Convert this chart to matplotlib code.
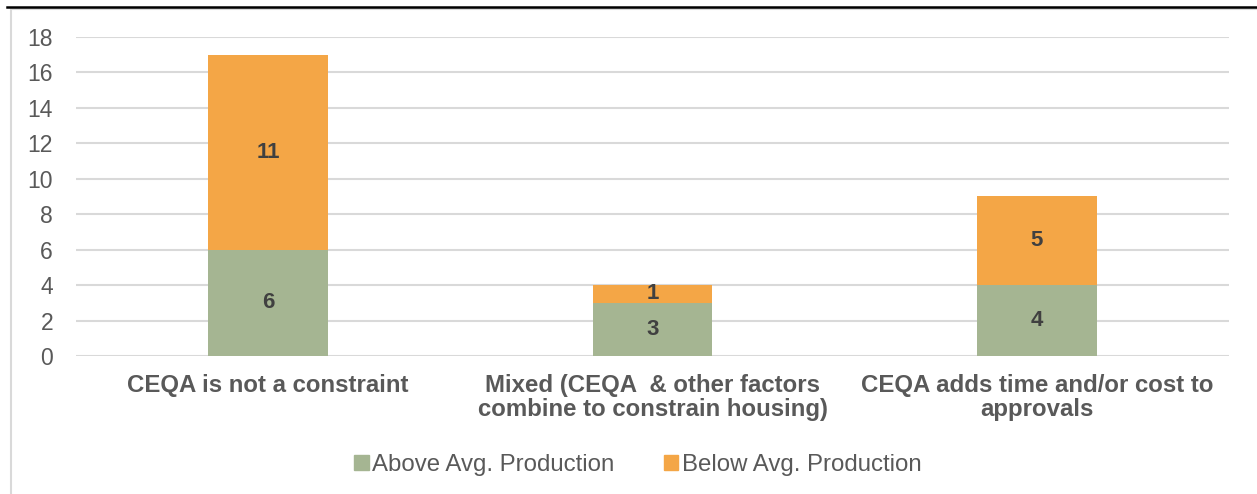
import matplotlib
matplotlib.use("Agg")
import matplotlib.pyplot as plt
from matplotlib.patches import Rectangle
from matplotlib.lines import Line2D

categories = [
    "CEQA is not a constraint",
    "Mixed (CEQA  & other factors\ncombine to constrain housing)",
    "CEQA adds time and/or cost to\napprovals",
]
above_avg = [6, 3, 4]
below_avg = [11, 1, 5]
series_names = ["Above Avg. Production", "Below Avg. Production"]
y_ticks = [0, 2, 4, 6, 8, 10, 12, 14, 16, 18]

GREEN = "#A5B592"
ORANGE = "#F4A646"
LABEL = "#404040"
TICK = "#595959"
GRID = "#D9D9D9"

plt.rcParams["font.family"] = ["Liberation Sans", "DejaVu Sans"]

W, H = 1257, 494
fig = plt.figure(figsize=(W / 100, H / 100), dpi=100)

# outer chart frame and rule above it
fig.add_artist(Rectangle((11 / W, 0 - 0.05), 1.2, 1 - 9 / H + 0.05,
                         transform=fig.transFigure, fill=False,
                         edgecolor=GRID, linewidth=1.5))
fig.add_artist(Line2D([7 / W, 1], [1 - 7 / H, 1 - 7 / H],
                      transform=fig.transFigure, color="black", linewidth=1.8))

ax = fig.add_axes([76 / W, 1 - 356 / H, (1229 - 76) / W, (356 - 37) / H])
x = list(range(len(categories)))
width = 0.312
bars1 = ax.bar(x, above_avg, width, color=GREEN, label=series_names[0], zorder=3)
bars2 = ax.bar(x, below_avg, width, bottom=above_avg, color=ORANGE,
               label=series_names[1], zorder=3)

for bars, vals, bottoms in ((bars1, above_avg, [0] * 3), (bars2, below_avg, above_avg)):
    for b, v, b0 in zip(bars, vals, bottoms):
        ax.text(b.get_x() + b.get_width() / 2, b0 + v / 2, str(v),
                ha="center", va="center", fontsize=16, fontweight="bold",
                color=LABEL, zorder=4)

ax.set_xlim(-0.5, 2.5)
ax.set_ylim(0, 18)
ax.set_yticks(y_ticks)
ax.yaxis.grid(True, color=GRID, linewidth=1.5, zorder=0)
ax.set_axisbelow(True)
for s in ax.spines.values():
    s.set_visible(False)
ax.tick_params(axis="y", length=0, pad=16.5, labelsize=16.5, labelcolor=TICK)
ax.tick_params(axis="x", length=0, pad=13)
ax.set_xticks(x)
ax.set_xticklabels(categories, fontsize=17.3, fontweight="bold", color=TICK,
                   linespacing=1.08)

handles = [Rectangle((0, 0), 1, 1, color=GREEN), Rectangle((0, 0), 1, 1, color=ORANGE)]
fig.legend(handles, series_names, loc="center", bbox_to_anchor=(638 / W, 1 - 465 / H),
           ncol=2, frameon=False, fontsize=17.3, handlelength=0.6, handleheight=0.6,
           handletextpad=0.15, columnspacing=2.05, labelcolor=TICK)

fig.savefig("out.png", dpi=100)
